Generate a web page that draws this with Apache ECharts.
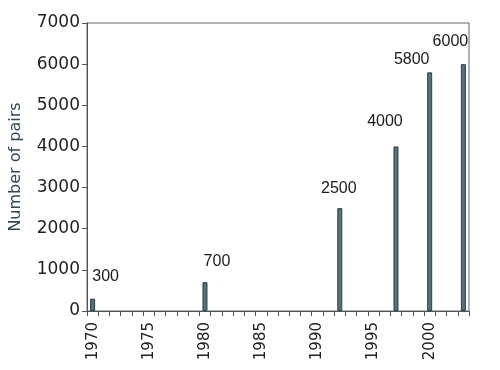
<!DOCTYPE html>
<html>
<head>
<meta charset="utf-8">
<script src="https://cdn.jsdelivr.net/npm/echarts@6/dist/echarts.min.js"></script>
<style>html,body{margin:0;padding:0;background:#fff}#c{width:500px;height:370px}</style>
</head>
<body>
<div id="c"></div>
<script>
var years = ['1970','1971','1972','1973','1974','1975','1976','1977','1978','1979',
             '1980','1981','1982','1983','1984','1985','1986','1987','1988','1989',
             '1990','1991','1992','1993','1994','1995','1996','1997','1998','1999',
             '2000','2001','2002','2003'];
var barYears = ['1970','1980','1992','1997','2000','2003'];
var pairs = [300, 700, 2500, 4000, 5800, 6000];
var yTicks = [0, 1000, 2000, 3000, 4000, 5000, 6000, 7000];
var labelOffsets = [[13,-9],[12,-8],[-1,-7],[-11,-12],[-18,0],[-13,-10]];

var chart = echarts.init(document.getElementById('c'), null, {renderer:'canvas'});
var data = barYears.map(function(y, i){
  return {value:[y, pairs[i]], label:{offset: labelOffsets[i]}};
});
chart.setOption({
  animation:false,
  backgroundColor:'#fff',
  grid:{left:83, right:31, top:23, bottom:59, show:true, borderColor:'#666', borderWidth:1, backgroundColor:'transparent'},
  xAxis:{
    type:'category', data:years, boundaryGap:true,
    axisLine:{lineStyle:{color:'#555', width:1}},
    axisTick:{show:true, interval:0, length:5, lineStyle:{color:'#555'}},
    axisLabel:{interval:4, rotate:90, margin:11, color:'#222', fontFamily:'DejaVu Sans', fontSize:15},
    splitLine:{show:false}
  },
  yAxis:{
    type:'value', min:yTicks[0], max:yTicks[yTicks.length-1], interval:1000,
    name:'Number of pairs', nameLocation:'middle', nameGap:63,
    nameTextStyle:{color:'#2d4a55', fontFamily:'DejaVu Sans', fontSize:16},
    axisLine:{show:true, lineStyle:{color:'#555', width:1}},
    axisTick:{show:true, length:5, lineStyle:{color:'#555'}},
    axisLabel:{margin:7, color:'#222', fontFamily:'DejaVu Sans', fontSize:17,
      formatter:function(v){ return String(v); }},
    splitLine:{show:false}
  },
  series:[{
    type:'bar', data:data, barWidth:5,
    itemStyle:{color:'#557179', borderColor:'#2c3f45', borderWidth:1},
    label:{show:true, position:'top', distance:5, color:'#1a1a1a', fontFamily:'Liberation Sans', fontSize:16}
  }]
});
</script>
</body>
</html>
